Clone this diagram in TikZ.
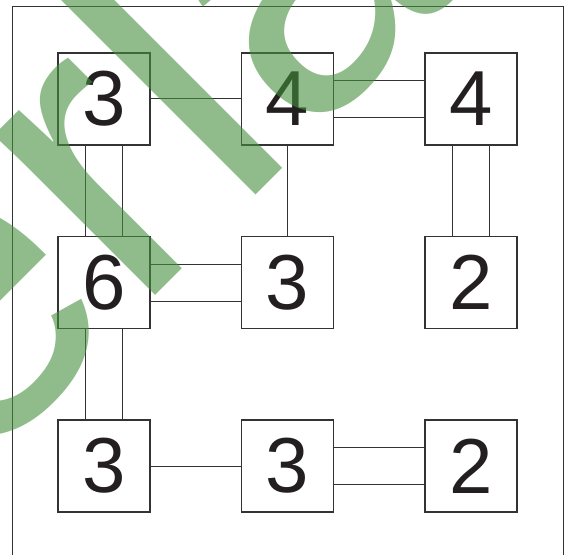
\documentclass[tikz,border=0pt]{standalone}
\usepackage{fontspec}
\setmainfont{Liberation Sans}
\usetikzlibrary{positioning,calc}
\definecolor{inkgray}{RGB}{51,51,51}
\definecolor{digitblack}{RGB}{35,31,32}
\definecolor{wmgreen}{RGB}{68,143,60}

\begin{document}
\begin{tikzpicture}[
  x=1pt, y=1pt,
  node distance=91.5pt,
  island/.style={draw=inkgray, line width=1.2pt, minimum size=92pt, inner sep=0pt, outer sep=0pt, text=digitblack, font=\fontsize{78}{80}\selectfont},
  bridge/.style={draw=inkgray, line width=1pt},
  watermark/.style={text=wmgreen, text opacity=0.6, inner sep=0pt, font=\fontsize{430}{430}\selectfont}
]
\useasboundingbox (0,0) rectangle (567,555);
\clip (0,0) rectangle (567,555);
\draw[inkgray, line width=1pt] (12.7,0) |- (563,548.7) -- (563,0);

\node[island] (a1) at (104,456) {3};
\node[island, right=of a1] (a2) {4};
\node[island, right=of a2] (a3) {4};
\node[island, below=of a1] (b1) {6};
\node[island, right=of b1] (b2) {3};
\node[island, right=of b2] (b3) {2};
\node[island, below=of b1] (c1) {3};
\node[island, right=of c1] (c2) {3};
\node[island, right=of c2] (c3) {2};

% single bridges
\draw[bridge] (a1) -- (a2);
\draw[bridge] (a2) -- (b2);
\draw[bridge] (c1) -- (c2);
% double bridges
\draw[bridge] ([yshift=18.5pt]a2.east) -- ([yshift=18.5pt]a3.west);
\draw[bridge] ([yshift=-18.5pt]a2.east) -- ([yshift=-18.5pt]a3.west);
\draw[bridge] ([yshift=18.5pt]b1.east) -- ([yshift=18.5pt]b2.west);
\draw[bridge] ([yshift=-18.5pt]b1.east) -- ([yshift=-18.5pt]b2.west);
\draw[bridge] ([yshift=18.5pt]c2.east) -- ([yshift=18.5pt]c3.west);
\draw[bridge] ([yshift=-18.5pt]c2.east) -- ([yshift=-18.5pt]c3.west);
\draw[bridge] ([xshift=-18.5pt]a1.south) -- ([xshift=-18.5pt]b1.north);
\draw[bridge] ([xshift=18.5pt]a1.south) -- ([xshift=18.5pt]b1.north);
\draw[bridge] ([xshift=-18.5pt]a3.south) -- ([xshift=-18.5pt]b3.north);
\draw[bridge] ([xshift=18.5pt]a3.south) -- ([xshift=18.5pt]b3.north);
\draw[bridge] ([xshift=-18.5pt]b1.south) -- ([xshift=-18.5pt]c1.north);
\draw[bridge] ([xshift=18.5pt]b1.south) -- ([xshift=18.5pt]c1.north);

\node[watermark, rotate=45, anchor=base west] (stamp) at (-221,-117) {Verlag};
\end{tikzpicture}
\end{document}
